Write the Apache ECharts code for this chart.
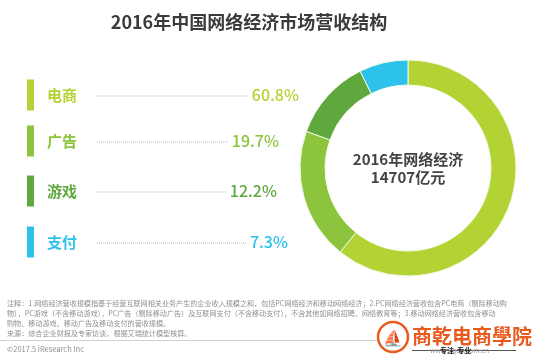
<!DOCTYPE html>
<html>
<head>
<meta charset="utf-8">
<script src="https://cdn.jsdelivr.net/npm/echarts@6/dist/echarts.min.js"></script>
<style>
html,body{margin:0;padding:0;background:#fff;}
#chart{width:549px;height:363px;}
</style>
</head>
<body>
<div id="chart"></div>
<script>
var categories = ['电商', '广告', '游戏', '支付'];
var shares = [60.8, 19.7, 12.2, 7.3];
var titleText = '2016年中国网络经济市场营收结构';
var centerLines = ['2016年网络经济', '14707亿元'];
var notes = [
  '注释：1.网络经济营收规模指基于经营互联网相关业务产生的企业收入规模之和，包括PC网络经济和移动网络经济；2.PC网络经济营收包含PC电商（剔除移动购',
  '物），PC游戏（不含移动游戏），PC广告（剔除移动广告）及互联网支付（不含移动支付），不含其他如网络招聘、网络教育等；3.移动网络经济营收包含移动',
  '购物、移动游戏、移动广告及移动支付的营收规模。',
  '来源：综合企业财报及专家访谈，根据艾瑞统计模型核算。'
];
var copyright = '©2017.5 iResearch Inc';

var palette = ['#b3d234', '#8cc43e', '#5ea83e', '#2cc2ec'];
var rowY = [95, 141, 191, 242];
var pctRight = [299, 279, 277, 288];
var FONT = '"Noto Sans CJK SC", "Noto Sans", sans-serif';

var chart = echarts.init(document.getElementById('chart'), null, {renderer: 'canvas'});

var graphics = [{type: 'text', x: 249, y: 22, style: {text: titleText, fill: '#3b3b3b', font: 'bold 18px ' + FONT, textAlign: 'center', textVerticalAlign: 'middle'}}];

categories.forEach(function (c, i) {
  var y = rowY[i];
  var pctText = shares[i].toFixed(1) + '%';
  graphics.push({type: 'rect', shape: {x: 27, y: y - 15.5, width: 7, height: 31}, style: {fill: palette[i]}});
  graphics.push({type: 'text', x: 47, y: y, style: {text: c, fill: palette[i], font: 'bold 15px ' + FONT, textVerticalAlign: 'middle'}});
  graphics.push({type: 'text', x: pctRight[i], y: y, style: {text: pctText, fill: palette[i], font: '500 16px ' + FONT, textAlign: 'right', textVerticalAlign: 'middle'}});
  graphics.push({type: 'line', shape: {x1: 97, y1: y + 1, x2: pctRight[i] - 50 + (5 - pctText.length) * 9, y2: y + 1}, style: {stroke: '#b8b8b8', lineWidth: 1, lineDash: [1, 1]}});
});

graphics.push({type: 'text', x: 408, y: 159, style: {text: centerLines[0], fill: '#444', font: 'bold 15px ' + FONT, textAlign: 'center', textVerticalAlign: 'middle'}});
graphics.push({type: 'text', x: 408, y: 177, style: {text: centerLines[1], fill: '#444', font: 'bold 15px ' + FONT, textAlign: 'center', textVerticalAlign: 'middle'}});

notes.forEach(function (t, i) {
  graphics.push({type: 'text', x: 7, y: 303 + i * 10, style: {text: t, fill: '#8f8f8f', font: '7.1px ' + FONT, textVerticalAlign: 'middle'}});
});
graphics.push({type: 'line', shape: {x1: 0, y1: 340.5, x2: 380, y2: 340.5}, style: {stroke: '#cfcfcf', lineWidth: 1}});
graphics.push({type: 'text', x: 7, y: 349, style: {text: copyright, fill: '#8f8f8f', font: '7.5px ' + FONT, textVerticalAlign: 'middle'}});

// watermark
graphics.push({type: 'circle', shape: {cx: 393, cy: 337, r: 15}, style: {fill: '#fff', stroke: '#e85a1e', lineWidth: 2.5}});
graphics.push({type: 'text', x: 393, y: 338, style: {text: '⛵', fill: '#e85a1e', font: 'bold 16px ' + FONT, textAlign: 'center', textVerticalAlign: 'middle'}});
graphics.push({type: 'text', x: 412, y: 336, style: {text: '商乾电商學院', fill: '#e85a1e', font: 'bold 20px ' + FONT, textVerticalAlign: 'middle'}});
graphics.push({type: 'line', shape: {x1: 412, y1: 350.5, x2: 516, y2: 350.5}, style: {stroke: '#555', lineWidth: 1}});
graphics.push({type: 'text', x: 430, y: 350, style: {text: 'www.sqds.com.cn', fill: '#999', font: '7px ' + FONT, textVerticalAlign: 'middle'}});
graphics.push({type: 'text', x: 440, y: 350, style: {text: '专注  专业', fill: '#222', font: 'bold 7px ' + FONT, textVerticalAlign: 'middle'}});

var option = {
  animation: false,
  backgroundColor: '#fff',
  color: palette,
  series: [{
    type: 'pie',
    center: [408, 168],
    radius: [83, 108],
    startAngle: 90,
    clockwise: true,
    label: {show: false},
    labelLine: {show: false},
    silent: true,
    itemStyle: {borderColor: '#f4fbe6', borderWidth: 1},
    data: categories.map(function (c, i) { return {name: c, value: shares[i]}; })
  }],
  graphic: graphics
};
chart.setOption(option);
</script>
</body>
</html>
